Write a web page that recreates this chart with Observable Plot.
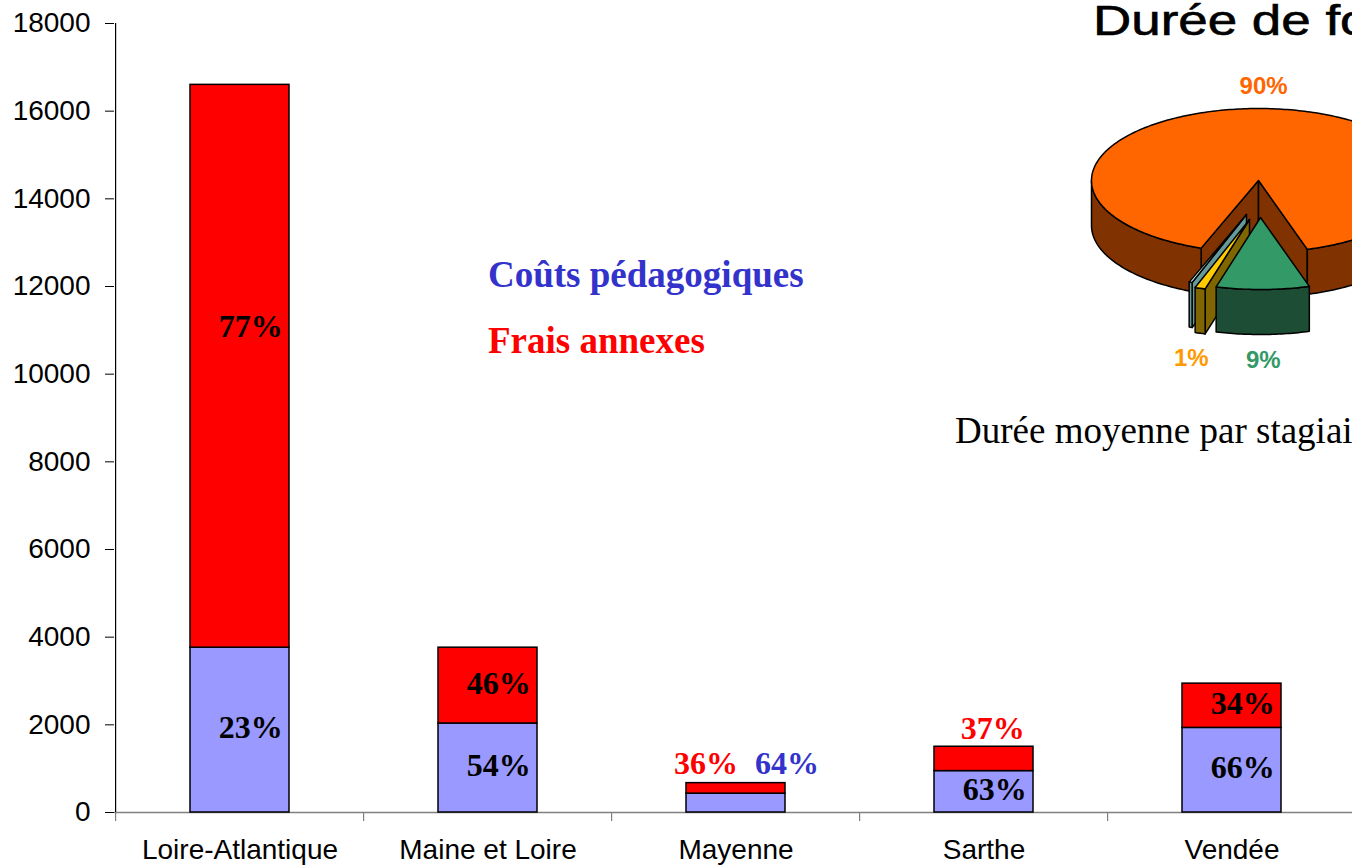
<!DOCTYPE html>
<html><head><meta charset="utf-8">
<script src="https://cdn.jsdelivr.net/npm/d3@7"></script>
<script src="https://cdn.jsdelivr.net/npm/@observablehq/plot@0.6"></script>
<style>
html,body{margin:0;padding:0;background:#fff;overflow:hidden}
#wrap{position:relative;width:1352px;height:866px;overflow:hidden;background:#fff}
#wrap > svg{position:absolute;left:0;top:0}
.ann{position:absolute;white-space:nowrap;line-height:1}
</style></head>
<body><div id="wrap"></div>
<script>
// ---------- data ----------
const depts = ["Loire-Atlantique", "Maine et Loire", "Mayenne", "Sarthe", "Vendée"];
const coutsPedagogiques = [3760, 2030, 430, 945, 1930];
const fraisAnnexes = [12840, 1730, 240, 555, 1010];
const series = ["Coûts pédagogiques", "Frais annexes"];
const yTicks = [0, 2000, 4000, 6000, 8000, 10000, 12000, 14000, 16000, 18000];

const pieTitle = "Durée de formation";
const pieSubtitle = "Durée moyenne par stagiaire";
// pie shares in clockwise order, starting at the front-right cut
const pieShares = [9, 1, 0.3, 89.7];

// ---------- styles ----------
const sans = "'Liberation Sans', Arial, sans-serif";
const serif = "'Liberation Serif', 'Times New Roman', serif";
const barColors = ["#9999FF", "#FF0000"];
const pieTop = ["#339966", "#FFCC00", "#CCFFFF", "#FF6600"];
const pieSide = ["#1E4D35", "#806600", "#669999", "#803300"];
const pieLabelColor = ["#339966", "#FF9900", "#669999", "#FF6600"];

const wrap = document.getElementById("wrap");

// ---------- bar chart ----------
const W = 1400, H = 866;
const mL = 114, mR = W - 1358, mT = 23, mB = H - 812;
const step = (W - mL - mR) / depts.length;
const bw = step * 0.4;
const kpx = (H - mT - mB) / 18000;

const rows = depts.flatMap((d, i) => [
  {dept: d, serie: series[0], value: coutsPedagogiques[i]},
  {dept: d, serie: series[1], value: fraisAnnexes[i]}
]);

const labelMarks = [];
depts.forEach((d, i) => {
  const c = coutsPedagogiques[i], f = fraisAnnexes[i], t = c + f;
  const segs = [
    {lo: 0, hi: c, pct: Math.round(c / t * 100)},
    {lo: c, hi: t, pct: Math.round(f / t * 100)}
  ];
  const outside = segs.map(s => (s.hi - s.lo) * kpx < 30);
  segs.forEach((s, j) => {
    const common = {x: "dept", y: "y", text: "text", fontFamily: serif, fontWeight: "bold", fontSize: 32};
    const row = {dept: d, text: s.pct + "%"};
    let opts;
    if (!outside[j]) {
      row.y = (s.lo + s.hi) / 2;
      const tall = (s.hi - s.lo) * kpx > 400;
      opts = {fill: "black", textAnchor: "end", dx: bw / 2 - 7, dy: tall ? -40 : -2};
    } else if (outside[0] && outside[1]) {
      row.y = t;
      opts = {fill: j === 0 ? "#3333CC" : "#FF0000", textAnchor: j === 0 ? "start" : "end", dx: j === 0 ? 19 : 2, dy: -19};
    } else {
      row.y = t;
      opts = {fill: j === 0 ? "#3333CC" : "#FF0000", textAnchor: "end", dx: bw / 2 - 9, dy: -18};
    }
    labelMarks.push(Plot.text([row], {...common, ...opts}));
  });
});

const bars = Plot.plot({
  width: W, height: H,
  marginLeft: mL, marginRight: mR, marginTop: mT, marginBottom: mB,
  style: {fontFamily: sans, fontSize: "28px", color: "black", background: "transparent", maxWidth: "none", overflow: "visible"},
  x: {domain: depts, paddingInner: 0.6, paddingOuter: 0.3, label: null},
  y: {domain: [0, 18000], label: null},
  color: {domain: series, range: barColors},
  marks: [
    Plot.ruleY([0], {stroke: "#808080", strokeWidth: 1.5}),
    Plot.ruleX(depts, {x: d => d, dx: -step / 2, y1: 0, y2: 0, insetBottom: -9, stroke: "#808080", strokeWidth: 1.2}),
    Plot.ruleX([depts[0]], {x: d => d, dx: -step / 2, y1: 0, y2: 18000, stroke: "black", strokeWidth: 1.2}),
    Plot.barY(rows, {x: "dept", y: "value", fill: "serie", stroke: "black", strokeWidth: 1.5}),
    Plot.axisY({ticks: yTicks, tickSize: 9, tickPadding: 15, tickFormat: d => String(d), fontSize: 28, stroke: "black"}),
    Plot.axisX({tickSize: 0, tickPadding: 27, fontSize: 28}),
    ...labelMarks
  ]
});
wrap.appendChild(bars);

// ---------- 3D pie ----------
const cx = 1258, cy = 180, rx = 167, ry = 72, depth = 45, startAngle = 73;
const explode = [[2, 37], [-9, 39], [-12, 34], [0, 0]];
const rad = Math.PI / 180;
let acc = startAngle;
const slices = pieShares.map((v, i) => {
  const a = acc; acc += v * 3.6;
  return {i, a, b: acc, ox: explode[i][0], oy: explode[i][1]};
});
const P = (s, t, dz = 0) => [cx + s.ox + rx * Math.cos(t * rad), cy + s.oy + ry * Math.sin(t * rad) + dz];
const arc = (s, a, b, dz = 0) => {
  const n = Math.max(2, Math.ceil(Math.abs(b - a)));
  return d3.range(n + 1).map(k => P(s, a + (b - a) * k / n, dz));
};
const poly = (ring, fill) => ({type: "Feature", properties: {fill}, geometry: {type: "Polygon", coordinates: [[...ring, ring[0]]]}});

const features = [];
[3, 2, 1, 0].forEach(i => {
  const s = slices[i];
  const apex = [cx + s.ox, cy + s.oy], apexD = [apex[0], apex[1] + depth];
  if (Math.cos(s.a * rad) < 0) features.push(poly([apex, P(s, s.a), P(s, s.a, depth), apexD], pieSide[i]));
  if (Math.cos(s.b * rad) > 0) features.push(poly([apex, P(s, s.b), P(s, s.b, depth), apexD], pieSide[i]));
  for (let k = -1; k <= 2; k++) {
    const lo = Math.max(s.a, 360 * k), hi = Math.min(s.b, 360 * k + 180);
    if (hi > lo) features.push(poly([...arc(s, lo, hi), ...arc(s, hi, lo, depth)], pieSide[i]));
  }
  features.push(poly([apex, ...arc(s, s.a, s.b)], pieTop[i]));
});

const pieLabels = slices.filter(s => Math.round(pieShares[s.i]) >= 1).map(s => {
  const m = (s.a + s.b) / 2, p = P(s, m), front = Math.sin(m * rad) > 0;
  const gap = front ? 30 : 22;
  return {
    x: p[0] + gap * Math.cos(m * rad),
    y: p[1] + (front ? depth : 0) + gap * Math.sin(m * rad) - (front ? 4 : 0),
    text: Math.round(pieShares[s.i]) + "%",
    fill: pieLabelColor[s.i]
  };
});

const pie = Plot.plot({
  width: 1500, height: 866, margin: 0,
  projection: {type: "identity"},
  color: {type: "identity"},
  style: {background: "transparent", maxWidth: "none", overflow: "visible"},
  marks: [
    Plot.geo(features, {fill: d => d.properties.fill, stroke: "black", strokeWidth: 1.5, strokeLinejoin: "round"}),
    Plot.text(pieLabels, {x: "x", y: "y", text: "text", fill: "fill", fontSize: 24, fontWeight: "bold", fontFamily: sans})
  ]
});
wrap.appendChild(pie);

// ---------- annotations ----------
function ann(text, css) {
  const el = document.createElement("div");
  el.className = "ann";
  el.textContent = text;
  Object.assign(el.style, css);
  wrap.appendChild(el);
}
ann(pieTitle, {left: "1093px", top: "0px", fontFamily: sans, fontSize: "42px", color: "black", transform: "scaleX(1.26)", transformOrigin: "0 0", webkitTextStroke: "0.6px black"});
ann(series[0], {left: "488px", top: "256px", fontFamily: serif, fontSize: "37px", fontWeight: "bold", color: "#3333CC"});
ann(series[1], {left: "488px", top: "322px", fontFamily: serif, fontSize: "37px", fontWeight: "bold", color: "#FF0000"});
ann(pieSubtitle, {left: "955px", top: "412px", fontFamily: serif, fontSize: "37px", color: "black"});
</script>
</body></html>
